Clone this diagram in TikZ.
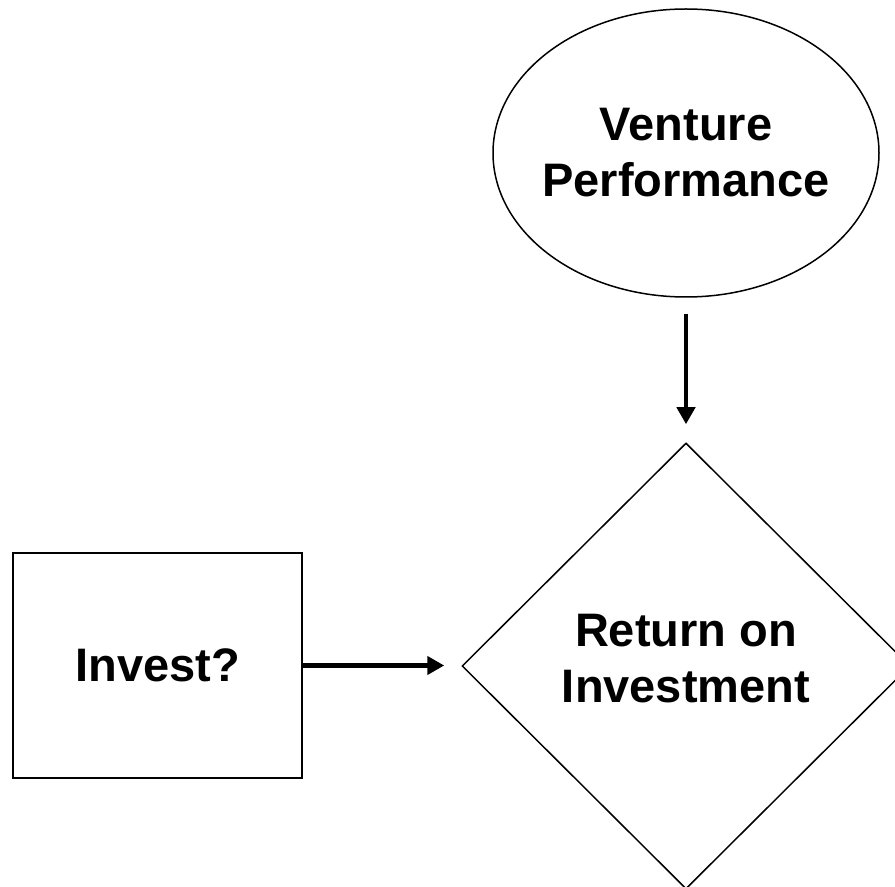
\documentclass[tikz,border=0pt]{standalone}
\usepackage{fontspec}
\setmainfont{Liberation Sans}
\usetikzlibrary{shapes.geometric,arrows.meta}

\begin{document}
\begin{tikzpicture}[x=0.5pt,y=-0.5pt,
    every node/.style={font=\bfseries\fontsize{23.5}{28}\selectfont, align=center, inner sep=0pt},
    outcome/.style={ellipse, draw, line width=0.75pt, minimum width=193pt, minimum height=144pt},
    choice/.style={rectangle, draw, line width=1pt, minimum width=144.5pt, minimum height=112.5pt},
    payoff/.style={diamond, draw, line width=0.75pt, minimum width=224pt, minimum height=223pt, text depth=8pt},
    link/.style={line width=2.4pt, -{Triangle[length=8.5pt,width=9pt]}}]
    \useasboundingbox (0,0) rectangle (895,887);

    \node[outcome, label={center:Venture\\Performance}] (venture) at (686,153) {};
    \node[payoff] (roi) at (686,666) {Return on\\Investment};
    \node[choice] (invest) at (157.5,665.5) {Invest?};

    \draw[link, shorten <=8pt, shorten >=9pt] (venture) -- (roi);
    \draw[link, shorten >=8.5pt] (invest) -- (invest -| roi.west);
\end{tikzpicture}
\end{document}
